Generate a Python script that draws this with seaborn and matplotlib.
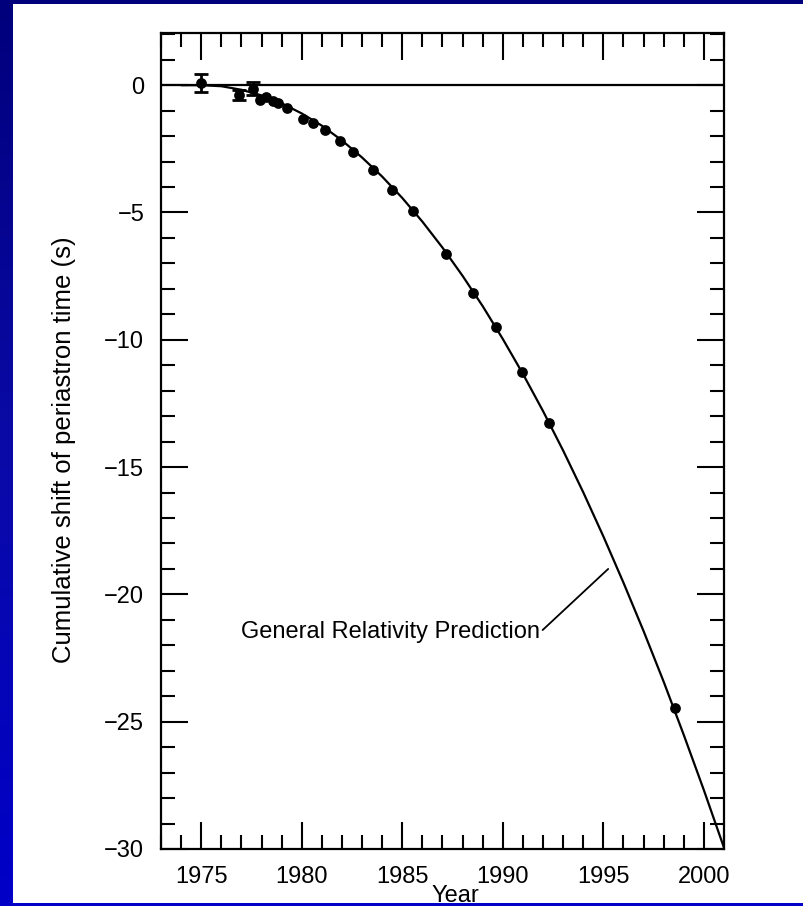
import numpy as np
import pandas as pd
import matplotlib
matplotlib.use("Agg")
import matplotlib.pyplot as plt
from matplotlib.patches import Rectangle
from matplotlib.ticker import MultipleLocator
from matplotlib.colors import LinearSegmentedColormap
import seaborn as sns

# ---- data ----
obs_year = [1975.0, 1976.87, 1977.57, 1977.9, 1978.24, 1978.55, 1978.8, 1979.28,
            1980.06, 1980.56, 1981.14, 1981.89, 1982.55, 1983.55, 1984.51,
            1985.51, 1987.15, 1988.53, 1989.64, 1990.94, 1992.30, 1998.57]
obs_shift = [0.08, -0.39, -0.13, -0.59, -0.48, -0.62, -0.71, -0.89,
             -1.31, -1.48, -1.77, -2.19, -2.62, -3.34, -4.10,
             -4.93, -6.64, -8.18, -9.49, -11.26, -13.26, -24.47]
obs_err = [0.35, 0.2, 0.25, 0.0, 0.0, 0.0, 0.0, 0.0,
           0.0, 0.0, 0.0, 0.0, 0.0, 0.0, 0.0,
           0.0, 0.0, 0.0, 0.0, 0.0, 0.0, 0.0]

curve_year = [1974, 1975, 1976, 1977, 1978, 1979, 1980, 1981, 1982, 1983, 1984,
              1985, 1986, 1987, 1988, 1989, 1990, 1991, 1992, 1993, 1994,
              1995, 1996, 1997, 1998, 1999, 2000, 2001]
curve_shift = [0.0, 0.0, -0.04, -0.18, -0.40, -0.71, -1.11, -1.59, -2.17, -2.84,
               -3.59, -4.43, -5.36, -6.38, -7.49, -8.68, -9.97, -11.34, -12.80,
               -14.35, -15.99, -17.72, -19.54, -21.44, -23.43, -25.52, -27.69, -29.95]

x_ticks = [1975, 1980, 1985, 1990, 1995, 2000]
y_ticks = [0, -5, -10, -15, -20, -25, -30]

sns.set_theme(style="ticks")
plt.rcParams['font.family'] = ['Liberation Sans', 'DejaVu Sans']
plt.rcParams['axes.unicode_minus'] = True

W, H = 804, 906
fig = plt.figure(figsize=(W / 100, H / 100), dpi=100)
fig.patch.set_facecolor("white")

# slide background: blue gradient frame
bg = fig.add_axes([0, 0, 1, 1], zorder=-10)
grad = np.linspace(0, 1, 256).reshape(-1, 1)
cmap = LinearSegmentedColormap.from_list("slide", ["#00007c", "#0a0aa8", "#0000c8"])
bg.imshow(grad, aspect="auto", cmap=cmap, extent=[0, 1, 0, 1], origin="upper")
bg.add_patch(Rectangle((13 / W, 1 - 903 / H), 1 - 13 / W, (903 - 4) / H,
                       facecolor="white", edgecolor="none"))
bg.set_xlim(0, 1); bg.set_ylim(0, 1)
bg.axis("off")

ax = fig.add_axes([161 / W, 1 - 849 / H, (724 - 161) / W, (849 - 33) / H])
ax.set_facecolor("white")

df_obs = pd.DataFrame({"year": obs_year, "shift": obs_shift, "err": obs_err})
df_curve = pd.DataFrame({"year": curve_year, "shift": curve_shift})
df_eb = df_obs[df_obs["err"] > 0]

ax.axhline(0, color="black", lw=1.6, zorder=2)
sns.lineplot(data=df_curve, x="year", y="shift", ax=ax, color="black", lw=1.6,
             sort=False, estimator=None, zorder=3)
ax.errorbar(df_eb["year"], df_eb["shift"], yerr=df_eb["err"], fmt="none",
            ecolor="black", elinewidth=2.0, capsize=5, capthick=2.0, zorder=4)
sns.scatterplot(data=df_obs, x="year", y="shift", ax=ax, color="black", s=60,
                marker="o", edgecolor="black", linewidth=0, zorder=5)

ax.set_xlim(1973, 2001)
ax.set_ylim(-30, 2.05)
ax.set_xticks(x_ticks)
ax.set_yticks(y_ticks)
ax.xaxis.set_minor_locator(MultipleLocator(1))
ax.yaxis.set_minor_locator(MultipleLocator(1))
ax.tick_params(which="both", direction="in", top=True, right=True,
               width=1.5, color="black", labelsize=17, labelcolor="black")
ax.tick_params(which="major", length=19.5, pad=12)
ax.tick_params(which="minor", length=10)
for s in ax.spines.values():
    s.set_linewidth(1.6)
    s.set_color("black")
    s.set_visible(True)

ax.set_xlabel("")
ax.set_ylabel("")
fig.text(64 / W, 1 - 449.5 / H, "Cumulative shift of periastron time (s)",
         fontsize=18.5, rotation=90, ha="center", va="center", color="black")

ax.text(1977.0, -21.48, "General Relativity Prediction", fontsize=17,
        ha="left", va="center", color="black")
ax.plot([1991.98, 1995.24], [-21.4, -19.0], color="black", lw=1.3)

fig.text(455 / W, 1 - 902 / H, "Year", fontsize=17, ha="center", va="baseline",
         color="black", zorder=1)
# bottom blue strip
fig.patches.append(Rectangle((0, 0), 1, 3.0 / H, transform=fig.transFigure,
                             facecolor="#0000c8", edgecolor="none", zorder=20))

fig.savefig("out.png", dpi=100)
